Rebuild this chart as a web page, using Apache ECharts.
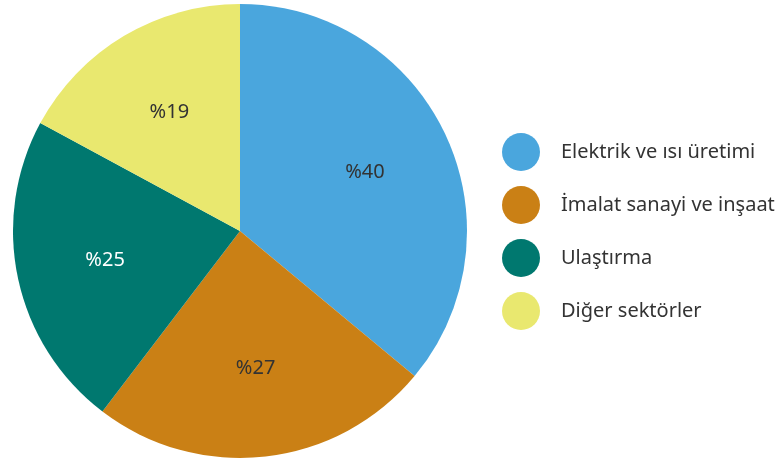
<!DOCTYPE html>
<html>
<head>
<meta charset="utf-8">
<script src="https://cdn.jsdelivr.net/npm/echarts@6/dist/echarts.min.js"></script>
<style>
  html, body { margin: 0; padding: 0; background: #fff; }
  #chart { width: 779px; height: 461px; }
</style>
</head>
<body>
<div id="chart"></div>
<script>
// Sector shares of emissions (percent)
const categories = ['Elektrik ve ısı üretimi', 'İmalat sanayi ve inşaat', 'Ulaştırma', 'Diğer sektörler'];
const shares = [40, 27, 25, 19];
const colors = ['#4AA6DD', '#CA8015', '#00786F', '#E9E86F'];
const labelColors = ['#333333', '#333333', '#ffffff', '#333333'];

const FONT = '"Noto Sans", "Open Sans", sans-serif';
const center = [240, 231];

const sliceData = categories.map((name, i) => ({
  name,
  value: shares[i],
  itemStyle: { color: colors[i] }
}));

const labelData = categories.map((name, i) => ({
  name,
  value: shares[i],
  label: { color: labelColors[i] }
}));

const chart = echarts.init(document.getElementById('chart'), null, { renderer: 'canvas' });
chart.setOption({
  animation: false,
  legend: {
    orient: 'vertical',
    left: 497,
    top: 128,
    icon: 'circle',
    itemWidth: 38,
    itemHeight: 38,
    itemGap: 15,
    selectedMode: false,
    textStyle: {
      fontFamily: FONT,
      fontSize: 20,
      color: '#333333',
      padding: [0, 0, 0, 16]
    },
    data: categories
  },
  series: [
    {
      type: 'pie',
      center,
      radius: [0, 227],
      startAngle: 90,
      clockwise: true,
      silent: true,
      label: { show: false },
      labelLine: { show: false },
      itemStyle: { borderWidth: 0 },
      data: sliceData
    },
    {
      // transparent overlay carrying the percentage labels
      type: 'pie',
      center,
      radius: [0, 270],
      startAngle: 90,
      clockwise: true,
      silent: true,
      legendHoverLink: false,
      itemStyle: { color: 'rgba(0,0,0,0)', borderWidth: 0 },
      label: {
        show: true,
        position: 'inside',
        fontFamily: FONT,
        fontSize: 20,
        formatter: p => '%' + p.value
      },
      labelLine: { show: false },
      data: labelData
    }
  ]
});
</script>
</body>
</html>
